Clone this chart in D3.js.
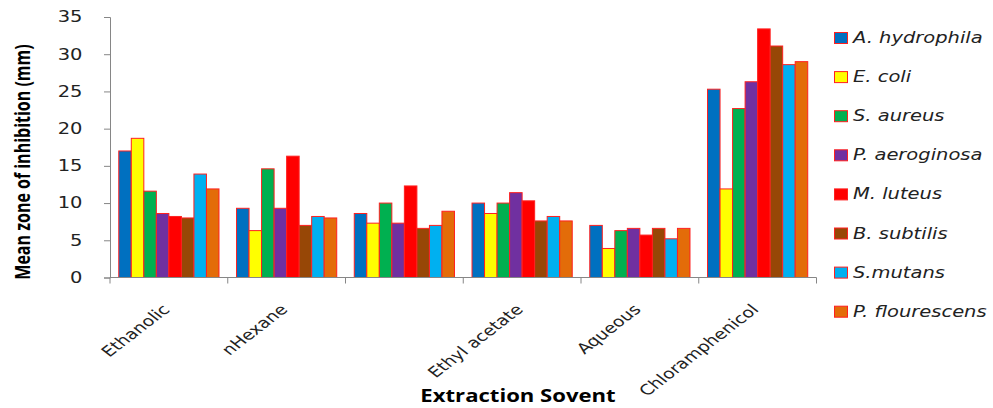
<!DOCTYPE html>
<html><head><meta charset="utf-8">
<script src="https://cdn.jsdelivr.net/npm/d3@7"></script>
<style>body{margin:0;background:#fff}svg{display:block}</style>
</head><body>
<svg id="chart" width="993" height="408"></svg>
<script>
const categories = ["Ethanolic", "nHexane", "", "Ethyl acetate", "Aqueous", "Chloramphenicol"];
const seriesNames = ["A. hydrophila", "E. coli", "S. aureus", "P. aeroginosa", "M. luteus", "B. subtilis", "S.mutans", "P. flourescens"];
const seriesColors = ["#0070C0", "#FFFF00", "#00B050", "#7030A0", "#FF0000", "#974706", "#00B0F0", "#E36C09"];
const aHydrophila  = [17.0, 9.3, 8.6, 10.0, 7.0, 25.3];
const eColi        = [18.7, 6.3, 7.3, 8.6, 3.9, 11.9];
const sAureus      = [11.6, 14.6, 10.0, 10.0, 6.3, 22.7];
const pAeroginosa  = [8.6, 9.3, 7.3, 11.4, 6.6, 26.3];
const mLuteus      = [8.2, 16.3, 12.3, 10.3, 5.7, 33.4];
const bSubtilis    = [8.0, 7.0, 6.6, 7.6, 6.6, 31.1];
const sMutans      = [13.9, 8.2, 7.0, 8.2, 5.2, 28.6];
const pFlourescens = [11.9, 8.0, 8.9, 7.6, 6.6, 29.0];
const yTicks = [0, 5, 10, 15, 20, 25, 30, 35];

const seriesValues = [aHydrophila, eColi, sAureus, pAeroginosa, mLuteus, bSubtilis, sMutans, pFlourescens];

const SX = 1.3; // horizontal stretch of the original rendering
const svg = d3.select("#chart");
const mLeft = 110, mRight = 816.5, mTop = 17, mBottom = 277.5;

const x0 = d3.scaleBand().domain(d3.range(categories.length)).range([mLeft, mRight]).paddingInner(0).paddingOuter(0);
const x1 = d3.scaleBand().domain(d3.range(seriesNames.length)).range([0, x0.bandwidth()]).paddingOuter(0.7);
const y = d3.scaleLinear().domain([0, 35]).range([mBottom, mTop]);

// bars
const groups = svg.append("g").selectAll("g").data(categories).join("g")
  .attr("transform", (d, i) => `translate(${x0(i)},0)`);
groups.selectAll("rect").data((d, i) => seriesValues.map((s, k) => ({k, v: s[i]})))
  .join("rect")
  .attr("x", d => x1(d.k))
  .attr("width", x1.bandwidth())
  .attr("y", d => y(d.v))
  .attr("height", d => mBottom - y(d.v))
  .attr("fill", d => seriesColors[d.k])
  .attr("stroke", "#FF2020")
  .attr("stroke-width", 1);

// y axis
const yAxis = svg.append("g").attr("transform", `translate(${mLeft},0)`)
  .call(d3.axisLeft(y).tickValues(yTicks).tickSize(6).tickFormat(d3.format("d")));
yAxis.select(".domain").attr("stroke", "#868686");
yAxis.selectAll(".tick line").attr("stroke", "#868686");
yAxis.selectAll("text")
  .attr("x", 0)
  .attr("transform", `translate(-27.5,0) scale(${SX},1)`)
  .attr("font-family", "DejaVu Sans").attr("font-size", 15).attr("fill", "#222");

// x axis
const xAxisG = svg.append("g").attr("transform", `translate(0,${mBottom})`);
xAxisG.append("line").attr("x1", mLeft).attr("x2", mRight).attr("stroke", "#868686");
xAxisG.selectAll("line.tk").data(d3.range(categories.length + 1)).join("line")
  .attr("class", "tk")
  .attr("x1", i => i < categories.length ? x0(i) : mRight)
  .attr("x2", i => i < categories.length ? x0(i) : mRight)
  .attr("y1", 0).attr("y2", 6).attr("stroke", "#868686");
xAxisG.selectAll("text").data(categories).join("text")
  .attr("transform", (d, i) => `translate(${x0(i) + x0.bandwidth() / 2 + 2},${33}) scale(${SX},1) rotate(-45)`)
  .attr("text-anchor", "end")
  .attr("font-family", "DejaVu Sans")
  .attr("font-size", 14.5)
  .attr("fill", "#222")
  .text(d => d);

// axis titles
svg.append("text")
  .attr("transform", `translate(22,${162}) scale(${SX},1) rotate(-90)`)
  .attr("text-anchor", "middle")
  .attr("dominant-baseline", "central")
  .attr("font-family", "Open Sans").attr("font-weight", "bold").attr("font-size", 16)
  .attr("fill", "#000")
  .text("Mean zone of inhibition (mm)");
svg.append("text")
  .attr("transform", `translate(518,402) scale(${SX},1)`)
  .attr("text-anchor", "middle")
  .attr("font-family", "Open Sans").attr("font-weight", "bold").attr("font-size", 17)
  .attr("fill", "#000")
  .text("Extraction Sovent");

// legend
const legend = svg.append("g").selectAll("g").data(seriesNames).join("g")
  .attr("transform", (d, i) => `translate(834.5,${38 + i * 39.1})`);
legend.append("rect").attr("x", 0).attr("y", -5.5).attr("width", 13).attr("height", 11)
  .attr("fill", (d, i) => seriesColors[i]).attr("stroke", "#FF2020").attr("stroke-width", 1);
legend.append("text")
  .attr("transform", `translate(18.5,5) scale(${SX},1)`)
  .attr("font-family", "DejaVu Sans").attr("font-style", "italic").attr("font-size", 15)
  .attr("fill", "#222")
  .text(d => d);
</script>
</body></html>
